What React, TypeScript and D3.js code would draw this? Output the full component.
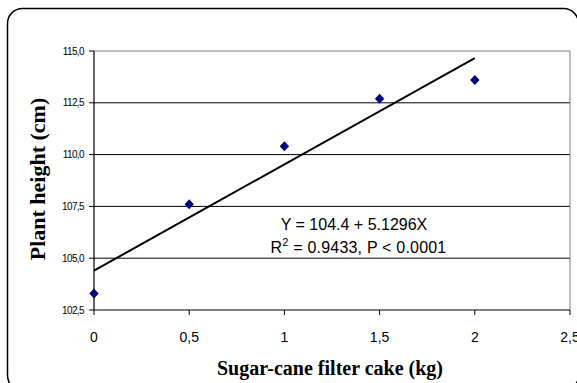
import React from 'react';
import * as d3 from 'd3';

const doseKg = [0, 0.5, 1, 1.5, 2];
const heightCm = [103.3, 107.6, 110.4, 112.7, 113.6];
const xTicks = [0, 0.5, 1, 1.5, 2, 2.5];
const yTicks = [102.5, 105, 107.5, 110, 112.5, 115];
const intercept = 104.4;
const slope = 5.1296;

const fmt = (v: number, digits: number) => v.toFixed(digits).replace('.', ',');

export default function App() {
  const width = 577;
  const height = 383;

  const x = d3.scaleLinear().domain([0, 2.5]).range([94, 570]);
  const y = d3.scaleLinear().domain([102.5, 115]).range([310, 51]);

  const fitLine = d3.line<number>()
    .x(d => x(d))
    .y(d => y(intercept + slope * d));

  // excel-style diamond marker
  const diamond = 'M0,-5L4.7,0L0,5L-4.7,0Z';

  return (
    <svg width={width} height={height} style={{ position: 'absolute', left: 0, top: 0, background: '#fff' }}>
      {/* chart frame */}
      <rect x={7.5} y={8.5} width={571} height={382} rx={15} fill="#fff" stroke="#000" strokeWidth={1.5} />

      {/* gridlines */}
      {yTicks.slice(1).map(t => (
        <line key={t} x1={x(0)} x2={x(2.5)} y1={y(t)} y2={y(t)}
          stroke={t === 115 ? '#808080' : '#000'} strokeWidth={1} />
      ))}
      <line x1={x(2.5)} x2={x(2.5)} y1={y(115)} y2={y(102.5)} stroke="#808080" strokeWidth={1} />

      {/* axes */}
      <line x1={x(0)} x2={x(0)} y1={y(115)} y2={y(102.5)} stroke="#000" strokeWidth={1.2} />
      <line x1={x(0)} x2={x(2.5)} y1={y(102.5)} y2={y(102.5)} stroke="#000" strokeWidth={1.2} />

      {yTicks.map(t => (
        <g key={t}>
          <line x1={x(0) - 5} x2={x(0)} y1={y(t)} y2={y(t)} stroke="#000" />
          <text x={x(0) - 10} y={y(t) + 3.5} textAnchor="end" fontFamily="Liberation Sans, Arial"
            fontSize={10} letterSpacing={-0.6}>{fmt(t, 1)}</text>
        </g>
      ))}
      {xTicks.map(t => (
        <g key={t}>
          <line x1={x(t)} x2={x(t)} y1={y(102.5)} y2={y(102.5) + 5} stroke="#000" />
          <text x={x(t)} y={342} textAnchor="middle" fontFamily="Liberation Sans, Arial"
            fontSize={14}>{t === 0 ? '0' : t % 1 === 0 ? String(t) : fmt(t, 1)}</text>
        </g>
      ))}

      {/* regression line */}
      <path d={fitLine([0, 2]) || ''} fill="none" stroke="#000" strokeWidth={2} />

      {/* observations */}
      {doseKg.map((d, i) => (
        <path key={d} d={diamond} transform={`translate(${x(d)},${y(heightCm[i])})`} fill="#000080" />
      ))}

      {/* equation */}
      <text x={354} y={230} textAnchor="middle" fontFamily="Liberation Sans, Arial" fontSize={16}>
        Y = 104.4 + 5.1296X
      </text>
      <text x={358.5} y={253} textAnchor="middle" fontFamily="Liberation Sans, Arial" fontSize={16} letterSpacing={0.2}>
        R<tspan dy={-7} fontSize={11}>2</tspan><tspan dy={7}> = 0.9433, P &lt; 0.0001</tspan>
      </text>

      {/* axis titles */}
      <text x={330} y={375} textAnchor="middle" fontFamily="Liberation Serif, Times New Roman"
        fontWeight="bold" fontSize={20}>Sugar-cane filter cake (kg)</text>
      <text transform="translate(45,179) rotate(-90)" textAnchor="middle"
        fontFamily="Liberation Serif, Times New Roman" fontWeight="bold" fontSize={22}>Plant height (cm)</text>
    </svg>
  );
}
